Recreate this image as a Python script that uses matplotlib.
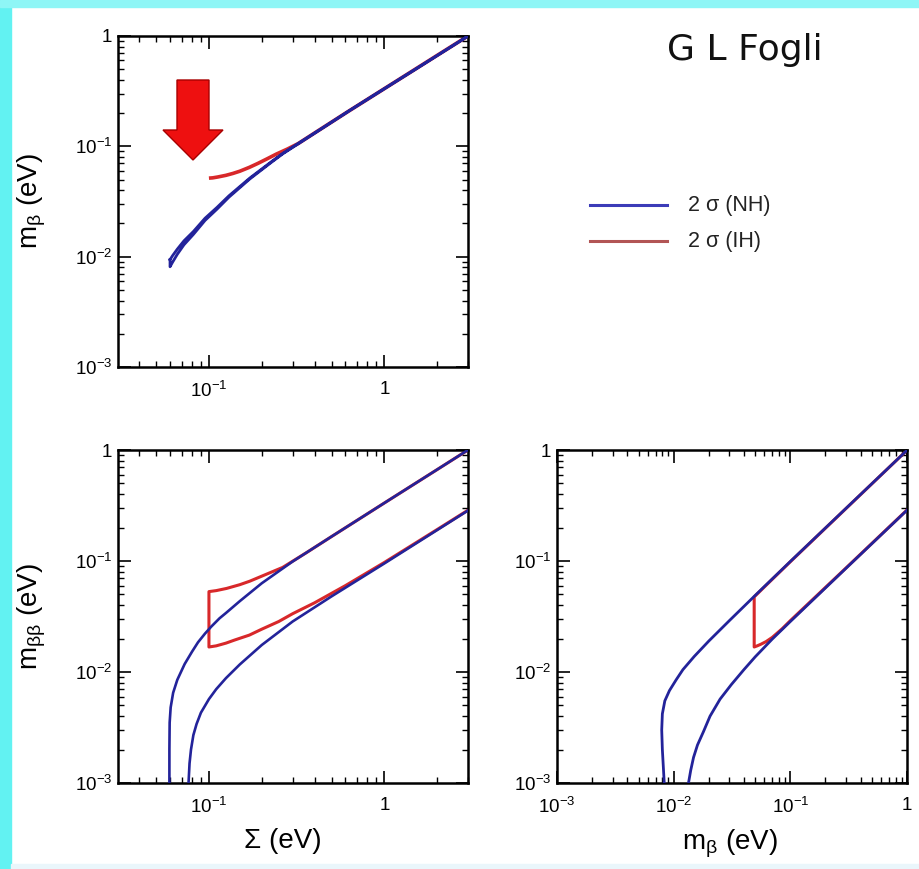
import numpy as np
import matplotlib
matplotlib.use("Agg")
import matplotlib.pyplot as plt
from matplotlib.ticker import FixedLocator, FixedFormatter, LogLocator, NullFormatter
from matplotlib.patches import Polygon, Rectangle
from matplotlib.lines import Line2D

# ---------------- data ----------------
# top panel: m_beta vs Sigma
sum_nh_top = [0.0600, 0.0620, 0.0660, 0.0720, 0.0815, 0.0950, 0.1110, 0.1300, 0.1710,
              0.2260, 0.2640, 0.3120, 0.4500, 0.6320, 0.9040, 1.5000, 2.2000, 3.0000]
mb_nh_top_hi = [0.0094, 0.0102, 0.0117, 0.0139, 0.0169, 0.0223, 0.0279, 0.0356, 0.0516,
                0.0722, 0.0866, 0.1027, 0.1490, 0.2110, 0.3020, 0.5000, 0.7330, 1.0000]
mb_nh_top_lo = [0.0081, 0.0089, 0.0105, 0.0128, 0.0159, 0.0213, 0.0269, 0.0346, 0.0506,
                0.0712, 0.0856, 0.1017, 0.1480, 0.2100, 0.3000, 0.4970, 0.7300, 0.9970]
sum_ih_top = [0.100, 0.105, 0.112, 0.125, 0.137, 0.150, 0.170, 0.190, 0.215, 0.242,
              0.280, 0.323, 0.400, 0.610, 1.000, 2.000, 3.000]
mb_ih_top = [0.0515, 0.0518, 0.0527, 0.0546, 0.0568, 0.0595, 0.0645, 0.0700, 0.0772, 0.0850,
             0.0945, 0.1060, 0.1320, 0.2030, 0.3330, 0.6670, 1.0000]

# bottom-left panel: m_betabeta vs Sigma
sum_nh_up = [0.0595, 0.0595, 0.0597, 0.0605, 0.0625, 0.0660, 0.0727, 0.0800, 0.0866, 0.0950,
             0.1030, 0.1150, 0.1250, 0.1500, 0.2000, 0.3000, 0.5000, 1.0000, 2.0000, 3.0000]
mbb_nh_up = [0.0010, 0.0020, 0.0035, 0.0048, 0.0065, 0.0085, 0.0118, 0.0152, 0.0185, 0.0222,
             0.0256, 0.0305, 0.0340, 0.0435, 0.0630, 0.0990, 0.1660, 0.3330, 0.6660, 1.0000]
sum_nh_lo = [0.0765, 0.0775, 0.0790, 0.0815, 0.0850, 0.0900, 0.1000, 0.1100, 0.1250, 0.1500,
             0.2000, 0.3000, 0.5000, 1.0000, 2.0000, 3.0000]
mbb_nh_lo = [0.0010, 0.0015, 0.0020, 0.0027, 0.0034, 0.0043, 0.0057, 0.0070, 0.0088, 0.0117,
             0.0175, 0.0285, 0.0480, 0.0950, 0.1900, 0.2850]
sum_ih_up = [0.100, 0.110, 0.126, 0.150, 0.171, 0.200, 0.263, 0.300, 0.360, 0.500,
             1.000, 2.000, 3.000]
mbb_ih_up = [0.0530, 0.0541, 0.0566, 0.0612, 0.0658, 0.0730, 0.0875, 0.0995, 0.1190, 0.1660,
             0.3330, 0.6660, 1.0000]
sum_ih_lo = [0.100, 0.110, 0.125, 0.140, 0.170, 0.200, 0.250, 0.300, 0.400, 0.600,
             1.000, 2.000, 3.000]
mbb_ih_lo = [0.0168, 0.0172, 0.0182, 0.0194, 0.0215, 0.0243, 0.0285, 0.0335, 0.0420, 0.0600,
             0.0970, 0.1920, 0.2870]

# bottom-right panel: m_betabeta vs m_beta
mb_nh_up = [0.0083, 0.0080, 0.0079, 0.0080, 0.0084, 0.0092, 0.0105, 0.0120, 0.0150, 0.0200,
            0.0300, 0.0500, 0.1000, 0.3000, 1.0000]
mbb_nh_up_r = [0.0010, 0.0020, 0.0030, 0.0042, 0.0055, 0.0068, 0.0085, 0.0105, 0.0138, 0.0190,
               0.0290, 0.0490, 0.0990, 0.2980, 0.9950]
mb_nh_lo = [0.0134, 0.0140, 0.0148, 0.0160, 0.0180, 0.0205, 0.0250, 0.0312, 0.0400, 0.0500,
            0.0700, 0.1000, 0.3000, 1.0000]
mbb_nh_lo_r = [0.0010, 0.0013, 0.0017, 0.0022, 0.0029, 0.0040, 0.0057, 0.0077, 0.0105, 0.0137,
               0.0198, 0.0285, 0.0860, 0.2870]
mb_ih_up = [0.0490, 0.0600, 0.1000, 0.3000, 1.0000]
mbb_ih_up_r = [0.0475, 0.0585, 0.0985, 0.2970, 0.9950]
mb_ih_lo = [0.0490, 0.0520, 0.0560, 0.0620, 0.0700, 0.0850, 0.1000, 0.3000, 1.0000]
mbb_ih_lo_r = [0.0168, 0.0172, 0.0178, 0.0188, 0.0205, 0.0245, 0.0290, 0.0865, 0.2880]

y_ticks = [1e-3, 1e-2, 1e-1, 1]
y_ticklabels = ["$10^{-3}$", "$10^{-2}$", "$10^{-1}$", "1"]
sum_ticks = [1e-1, 1]
sum_ticklabels = ["$10^{-1}$", "1"]
mb_ticks = [1e-3, 1e-2, 1e-1, 1]
mb_ticklabels = ["$10^{-3}$", "$10^{-2}$", "$10^{-1}$", "1"]

legend_labels = ["2 \u03c3 (NH)", "2 \u03c3 (IH)"]

# ---------------- style ----------------
plt.rcParams["font.family"] = ["Liberation Sans", "DejaVu Sans"]
plt.rcParams["mathtext.fontset"] = "custom"
plt.rcParams["mathtext.rm"] = "Liberation Sans"
plt.rcParams["mathtext.it"] = "Liberation Sans:italic"
plt.rcParams["mathtext.default"] = "regular"

BLUE = "#23239a"
RED = "#d8282a"
W, H = 920, 869
LABEL_FS = 20

fig = plt.figure(figsize=(9.2, 8.69), dpi=100)
fig.patch.set_facecolor("white")

# slide frame strips
fig.patches.append(Rectangle((0, 0), 11 / W, 1, transform=fig.transFigure,
                             color="#62f2f2", zorder=0))
fig.patches.append(Rectangle((0, 1 - 7 / H), 1, 7 / H, transform=fig.transFigure,
                             color="#8ef6f6", zorder=0))
fig.patches.append(Rectangle((11 / W, 0), 1, 5 / H, transform=fig.transFigure,
                             color="#eaf6fb", zorder=0))


def px_axes(left, top, right, bottom):
    return fig.add_axes([left / W, 1 - bottom / H, (right - left) / W, (bottom - top) / H])


def style(ax, xlim, xticks, xlabels):
    ax.set_xscale("log")
    ax.set_yscale("log")
    ax.set_xlim(*xlim)
    ax.set_ylim(1e-3, 1)
    ax.xaxis.set_major_locator(FixedLocator(xticks))
    ax.xaxis.set_major_formatter(FixedFormatter(xlabels))
    ax.yaxis.set_major_locator(FixedLocator(y_ticks))
    ax.yaxis.set_major_formatter(FixedFormatter(y_ticklabels))
    for axis in (ax.xaxis, ax.yaxis):
        axis.set_minor_locator(LogLocator(base=10, subs=np.arange(2, 10)))
        axis.set_minor_formatter(NullFormatter())
    ax.tick_params(which="both", direction="in", top=True, right=True,
                   labelsize=13.5, colors="black")
    ax.tick_params(which="major", length=9, width=1.2)
    ax.tick_params(which="minor", length=4.5, width=1.0)
    ax.tick_params(axis="x", which="major", pad=10)
    ax.tick_params(axis="y", which="major", pad=4)
    for s in ax.spines.values():
        s.set_linewidth(1.8)


ax_top = px_axes(118, 36, 468, 367)
ax_bl = px_axes(118, 450, 468, 783)
ax_br = px_axes(557, 450, 907, 783)

style(ax_top, (0.0303, 3.0), sum_ticks, sum_ticklabels)
style(ax_bl, (0.0303, 3.0), sum_ticks, sum_ticklabels)
style(ax_br, (1e-3, 1.0), mb_ticks, mb_ticklabels)

# ---- top: m_beta vs Sigma ----
ax_top.plot(sum_ih_top, mb_ih_top, color=RED, lw=2.6, solid_capstyle="butt", zorder=2)
loop_x = list(sum_nh_top) + list(sum_nh_top[::-1]) + [sum_nh_top[0]]
loop_y = list(mb_nh_top_hi) + list(mb_nh_top_lo[::-1]) + [mb_nh_top_hi[0]]
ax_top.plot(loop_x, loop_y, color=BLUE, lw=2.0, zorder=3)

# ---- bottom-left: m_betabeta vs Sigma ----
ax_bl.plot(list(sum_ih_up[::-1]) + list(sum_ih_lo), list(mbb_ih_up[::-1]) + list(mbb_ih_lo),
           color=RED, lw=2.2, zorder=2)
ax_bl.plot(sum_nh_up, mbb_nh_up, color=BLUE, lw=1.9, zorder=3)
ax_bl.plot(sum_nh_lo, mbb_nh_lo, color=BLUE, lw=1.9, zorder=3)

# ---- bottom-right: m_betabeta vs m_beta ----
ax_br.plot(list(mb_ih_up[::-1]) + list(mb_ih_lo), list(mbb_ih_up_r[::-1]) + list(mbb_ih_lo_r),
           color=RED, lw=2.2, zorder=2)
ax_br.plot(mb_nh_up, mbb_nh_up_r, color=BLUE, lw=2.0, zorder=3)
ax_br.plot(mb_nh_lo, mbb_nh_lo_r, color=BLUE, lw=2.0, zorder=3)

# axis labels
ax_top.set_ylabel(r"m$_{\beta}$ (eV)", fontsize=LABEL_FS)
ax_top.yaxis.set_label_coords(-0.2, 0.5)
ax_bl.set_ylabel(r"m$_{\beta\beta}$ (eV)", fontsize=LABEL_FS)
ax_bl.yaxis.set_label_coords(-0.2, 0.5)
ax_bl.set_xlabel("\u03a3 (eV)", fontsize=LABEL_FS)
ax_bl.xaxis.set_label_coords(0.471, -0.135)
ax_br.set_xlabel(r"m$_{\beta}$ (eV)", fontsize=LABEL_FS)
ax_br.xaxis.set_label_coords(0.494, -0.135)

# legend
for (yy, col, lab) in [(205, "#3c3cb8", legend_labels[0]), (241, "#b25555", legend_labels[1])]:
    fig.add_artist(Line2D([590 / W, 667 / W], [1 - yy / H] * 2, color=col, lw=2.2,
                          transform=fig.transFigure))
    fig.text(688 / W, 1 - yy / H, lab, fontsize=15.5, va="center", ha="left", color="#222222")

# author tag
fig.text(745 / W, 1 - 50 / H, "G L Fogli", fontsize=26, ha="center", va="center",
         family=["DejaVu Sans"], color="#111111")

# block arrow pointing down at the low-mass end
arrow_px = [(177, 80), (209, 80), (209, 130), (223, 130), (193, 160), (163, 130), (177, 130)]
arrow = Polygon([(x / W, 1 - y / H) for x, y in arrow_px], closed=True,
                transform=fig.transFigure, facecolor="#ee1010", edgecolor="#a80000",
                lw=1.0, zorder=5)
fig.patches.append(arrow)

fig.savefig("out.png", dpi=100)
